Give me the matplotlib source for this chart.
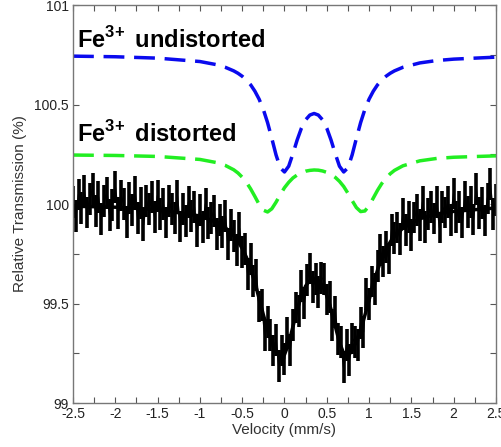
import numpy as np
import matplotlib
matplotlib.use('Agg')
import matplotlib.pyplot as plt
from matplotlib.ticker import MultipleLocator, FormatStrFormatter

plt.rcParams['font.family'] = ['Liberation Sans', 'DejaVu Sans']
plt.rcParams['axes.unicode_minus'] = False
plt.rcParams['mathtext.fontset'] = 'custom'
plt.rcParams['mathtext.rm'] = 'Liberation Sans'
plt.rcParams['mathtext.bf'] = 'Liberation Sans:bold'

# measured spectrum (relative transmission, %), evenly spaced channels
data_y = [100.009, 99.939, 100.048, 99.978, 100.068, 99.957, 100.027, 100.077, 99.966, 100.036,
          99.926, 100.015, 100.055, 99.945, 99.994, 100.084, 99.953, 100.043, 100.002, 99.911,
          100.031, 99.970, 100.059, 99.928, 100.007, 99.896, 100.016, 99.975, 100.034, 99.933,
          100.042, 99.950, 99.999, 99.907, 100.015, 99.973, 99.931, 100.039, 99.887, 99.975,
          99.913, 100.010, 99.938, 99.985, 99.863, 99.970, 99.885, 100.000, 99.905, 99.929,
          99.964, 99.848, 99.919, 99.860, 99.941, 99.798, 99.894, 99.841, 99.770, 99.878,
          99.757, 99.773, 99.649, 99.725, 99.615, 99.645, 99.485, 99.493, 99.341, 99.409,
          99.341, 99.264, 99.316, 99.188, 99.264, 99.223, 99.350, 99.268, 99.394, 99.480,
          99.462, 99.588, 99.501, 99.617, 99.676, 99.583, 99.623, 99.557, 99.628, 99.622,
          99.520, 99.534, 99.393, 99.457, 99.322, 99.306, 99.179, 99.290, 99.215, 99.324,
          99.306, 99.292, 99.401, 99.357, 99.546, 99.498, 99.611, 99.571, 99.688, 99.767,
          99.711, 99.782, 99.726, 99.869, 99.828, 99.882, 99.825, 99.949, 99.868, 99.936,
          99.845, 99.932, 99.969, 99.896, 100.011, 99.885, 99.950, 99.983, 99.927, 100.010,
          99.882, 99.985, 99.957, 100.009, 99.921, 100.053, 99.934, 99.986, 99.907, 100.038,
          99.960, 100.011, 99.922, 100.074, 99.955, 100.006, 99.917, 100.028, 100.099, 99.949,
          100.020]
data_err = 0.08
data_x = np.linspace(-2.5, 2.5, len(data_y))

# fitted curves
fit_x = [-2.5, -2.0, -1.5, -1.0, -0.8, -0.7, -0.6, -0.55, -0.5, -0.45, -0.4, -0.35, -0.3,
         -0.25, -0.2, -0.15, -0.1, -0.05, 0.0, 0.05, 0.1, 0.15, 0.2, 0.25, 0.3, 0.35, 0.4,
         0.45, 0.5, 0.55, 0.6, 0.65, 0.7, 0.75, 0.8, 0.85, 0.9, 0.95, 1.0, 1.05, 1.1, 1.15,
         1.2, 1.25, 1.3, 1.4, 1.6, 1.8, 2.0, 2.5]
undistorted = [100.743, 100.740, 100.733, 100.716, 100.700, 100.687, 100.669, 100.657, 100.642,
               100.623, 100.599, 100.567, 100.527, 100.475, 100.409, 100.330, 100.247, 100.182,
               100.161, 100.190, 100.253, 100.322, 100.381, 100.423, 100.447, 100.455, 100.447,
               100.423, 100.381, 100.322, 100.253, 100.190, 100.161, 100.182, 100.247, 100.330,
               100.409, 100.475, 100.527, 100.567, 100.599, 100.623, 100.642, 100.657, 100.669,
               100.687, 100.709, 100.721, 100.728, 100.738]
distorted = [100.246, 100.244, 100.239, 100.224, 100.208, 100.194, 100.172, 100.156, 100.135,
             100.109, 100.076, 100.038, 99.998, 99.969, 99.960, 99.976, 100.009, 100.047,
             100.082, 100.109, 100.131, 100.146, 100.157, 100.165, 100.169, 100.171, 100.170,
             100.166, 100.159, 100.149, 100.134, 100.114, 100.088, 100.054, 100.017, 99.982,
             99.962, 99.965, 99.991, 100.030, 100.069, 100.103, 100.130, 100.152, 100.169,
             100.192, 100.217, 100.229, 100.235, 100.242]
total_fit = [99.989, 99.984, 99.972, 99.940, 99.908, 99.881, 99.841, 99.813, 99.777, 99.732,
             99.675, 99.605, 99.525, 99.444, 99.369, 99.306, 99.256, 99.229, 99.243, 99.299,
             99.384, 99.468, 99.538, 99.588, 99.616, 99.626, 99.617, 99.589, 99.540, 99.471,
             99.387, 99.304, 99.249, 99.236, 99.264, 99.312, 99.371, 99.440, 99.518, 99.597,
             99.668, 99.726, 99.772, 99.809, 99.838, 99.879, 99.926, 99.950, 99.963, 99.980]

fig = plt.figure(figsize=(5.02, 4.47), dpi=100)
ax = fig.add_axes([0.1454, 0.0984, 0.8426, 0.8904])

ax.errorbar(data_x, data_y, yerr=data_err, fmt='none', ecolor='black', elinewidth=2.6)
ax.plot(data_x, data_y, color='black', lw=1.2)
ax.plot(fit_x, total_fit, color='black', lw=2.5)
ax.plot(fit_x, undistorted, color='#0a0aee', lw=2.5, dashes=(6, 2.8))
ax.plot(fit_x, distorted, color='#22ee22', lw=2.5, dashes=(6, 2.8))

ax.text(-2.45, 100.785, r'Fe$^{\mathbf{3{+}}}\,$ undistorted', fontsize=17, fontweight='bold')
ax.text(-2.45, 100.31, r'Fe$^{\mathbf{3{+}}}\,$ distorted', fontsize=17, fontweight='bold')

ax.set_xlim(-2.5, 2.5)
ax.set_ylim(99, 101)
ax.xaxis.set_major_locator(MultipleLocator(0.5))
ax.xaxis.set_minor_locator(MultipleLocator(0.25))
ax.yaxis.set_major_locator(MultipleLocator(0.5))
ax.yaxis.set_minor_locator(MultipleLocator(0.25))
ax.xaxis.set_major_formatter(FormatStrFormatter('%g'))
ax.yaxis.set_major_formatter(FormatStrFormatter('%g'))
ax.tick_params(which='both', direction='in', top=True, right=True, length=4,
               width=0.8, color='#555555', labelsize=10, labelcolor='#222222', pad=3)
for s in ax.spines.values():
    s.set_color('#777777')
    s.set_linewidth(1.0)

ax.set_xlabel('Velocity (mm/s)', fontsize=11, color='#333333', labelpad=1)
ax.set_ylabel('Relative Transmission (%)', fontsize=11, color='#333333', labelpad=5)

fig.savefig('out.png', dpi=100)
